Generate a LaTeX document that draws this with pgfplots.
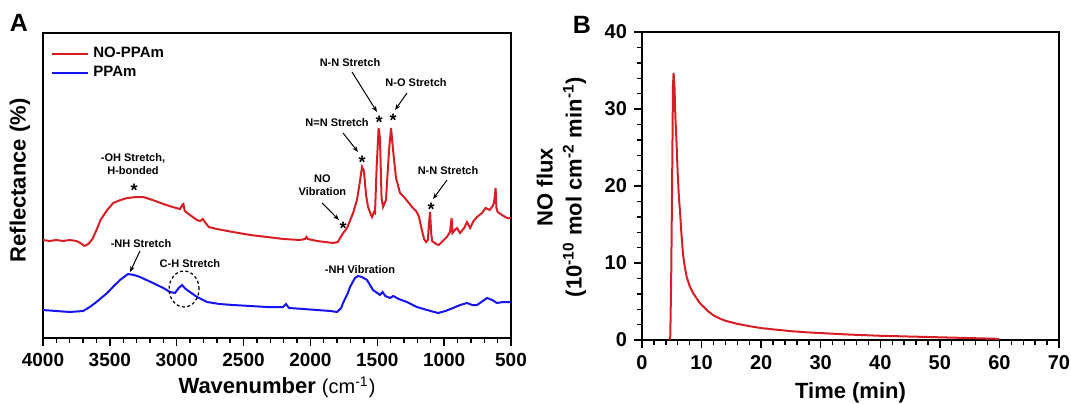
\documentclass[border=0pt]{standalone}
\usepackage{fontspec}
\setmainfont{Liberation Sans}
\usepackage{pgfplots}
\usepackage{pgfplotstable}
\pgfplotsset{compat=1.18}
\usetikzlibrary{arrows.meta}

\definecolor{nored}{RGB}{214,30,36}
\definecolor{ppblue}{RGB}{20,20,245}

% Panel A: wavenumber vs. reflectance (arbitrary offset units)
\pgfplotstableread{
w y
4000 98
3950 97
3900 98
3850 97
3800 98
3750 97
3720 95
3690 92
3660 94
3630 99
3600 108
3570 118
3520 128
3475 135
3420 138
3370 140
3300 141
3250 141
3180 138
3100 134
3030 131
2975 129
2958 133
2950 134
2940 127
2900 123
2850 118
2825 117
2805 119
2790 116
2760 111
2700 109
2580 106
2450 103
2325 101
2200 99
2080 98
2040 99
2030 101
2020 99
1950 97
1830 95
1795 96
1760 104
1726 110
1681 125
1652 138
1635 152
1614 171
1600 167
1584 143
1569 131
1550 124
1539 121
1525 126
1517 125
1505 170
1490 210
1480 200
1468 140
1457 131
1435 138
1412 188
1397 210
1382 188
1360 160
1330 145
1300 141
1270 136
1240 131
1210 127
1190 122
1170 110
1150 99
1135 96
1122 98
1113 115
1105 126
1097 105
1090 97
1060 94
1040 93
1010 97
980 101
956 106
944 120
938 105
920 108
904 110
881 105
850 110
829 116
806 110
780 117
754 121
717 125
690 130
660 128
642 131
627 135
615 150
609 130
600 126
567 123
530 120
500 120
}\redA

\pgfplotstableread{
w y
4000 28
3900 27
3800 26
3700 27
3650 31
3600 36
3520 45
3470 52
3424 58
3364 64
3320 63
3275 61
3177 55
3100 50
3050 46
3013 45
2985 50
2960 53
2940 50
2923 48
2901 46
2848 41
2773 36
2680 34
2579 33
2450 32
2325 31
2205 31
2183 34
2160 30
2050 29
1951 28
1850 27
1801 26
1770 30
1756 35
1720 45
1704 51
1667 60
1644 62
1614 61
1577 58
1532 48
1500 45
1480 43
1460 46
1440 42
1405 40
1380 42
1340 39
1278 36
1203 31
1128 28
1046 25
990 27
934 30
880 33
829 35
790 33
754 33
700 38
679 40
640 38
605 35
560 36
522 36
500 36
}\blueA

% Panel B: NO flux vs. time
\pgfplotstableread{
t f
4.6 0
4.75 0.5
4.9 8
5.05 20
5.2 33
5.3 34.7
5.45 33
5.6 29
5.8 25.6
6.0 21.5
6.2 18.5
6.4 16.5
6.6 14
6.9 11
7.2 9.4
7.5 8.2
8.0 7.0
8.5 6.2
9.0 5.6
9.7 4.8
10.5 4.2
11 3.8
12 3.2
13 2.8
14 2.5
15 2.3
16 2.1
18 1.8
20 1.55
22 1.38
25 1.15
28 0.98
30 0.9
35 0.7
40 0.55
45 0.45
50 0.35
55 0.25
60 0.15
}\fluxB

\tikzset{
  ann/.style={font=\bfseries\fontsize{5.5}{6.6}\selectfont},
  pk/.style={anchor=north, inner sep=0pt, font=\bfseries\fontsize{9}{9}\selectfont},
  arr/.style={-{Stealth[length=3pt]}, line width=0.5pt},
}

\pgfplotsset{
  panel/.style={
    scale only axis,
    axis line style={line width=0.8pt, black},
    tick align=outside,
    tick pos=left,
    major tick length=4pt,
    minor tick length=2.5pt,
    tick style={line width=0.7pt, black},
    /pgf/number format/assume math mode=true,
    /pgf/number format/1000 sep={},
    scaled ticks=false,
    xticklabel={\pgfmathprintnumber{\tick}},
    yticklabel={\pgfmathprintnumber{\tick}},
    ticklabel style={font=\bfseries\fontsize{9.5}{10}\selectfont},
    label style={font=\bfseries\fontsize{11}{14.5}\selectfont},
  },
}

\begin{document}
\begin{tikzpicture}
\begin{axis}[
  panel,
  name=A,
  at={(0pt,0pt)}, anchor=south west,
  width=234pt, height=152.5pt,
  x dir=reverse,
  xmin=500, xmax=4000,
  ymin=0, ymax=305,
  xtick={500,1000,...,4000},
  minor x tick num=4,
  ytick=\empty,
  xlabel={Wavenumber {\mdseries\fontsize{10}{12}\selectfont(cm\textsuperscript{-1})}},
  ylabel={Reflectance (\%)},
  xlabel style={at={(axis description cs:0.5,0)}, anchor=center, yshift=-24.5pt},
  ylabel style={at={(axis description cs:0,0.5)}, anchor=center, yshift=11.5pt, xshift=2.5pt},
  legend style={at={(axis description cs:0,1)}, anchor=north west, xshift=4pt, yshift=-5pt,
    draw=none, fill=none, inner sep=0pt, row sep=-1.5pt,
    font=\bfseries\fontsize{7.5}{9}\selectfont},
  legend cell align=left,
  legend image code/.code={\draw[#1, line width=1pt] (0pt,0pt) -- (18pt,0pt);},
]
\addplot[nored, line width=1pt] table[x=w, y=y] {\redA};
\addlegendentry{NO-PPAm}
\addplot[ppblue, line width=1pt] table[x=w, y=y] {\blueA};
\addlegendentry{PPAm}

% annotations
\node[ann, align=center] at (axis cs:3327,174) {-OH Stretch,\\H-bonded};
\node[pk] at (axis cs:3319,154) {*};

\node[ann] at (axis cs:1704,275) {N-N Stretch};
\draw[arr] (axis cs:1689,266) -- (axis cs:1502,226);
\node[pk] at (axis cs:1487,222) {*};
\node[pk] at (axis cs:1382,224) {*};

\node[ann] at (axis cs:1210,255) {N-O Stretch};
\draw[arr] (axis cs:1278,245) -- (axis cs:1367,228);

\node[ann] at (axis cs:1801,215) {N=N Stretch};
\draw[arr] (axis cs:1756,205) -- (axis cs:1644,186);
\node[pk] at (axis cs:1614,182) {*};

\node[ann, align=center] at (axis cs:1910,153) {NO\\Vibration};
\draw[arr] (axis cs:1913,135) -- (axis cs:1786,118);
\node[pk] at (axis cs:1756,116) {*};

\node[ann] at (axis cs:971,167) {N-N Stretch};
\draw[arr] (axis cs:978,158) -- (axis cs:1083,139);
\node[pk] at (axis cs:1098,135) {*};

\node[ann] at (axis cs:3267,94) {-NH Stretch};
\draw[arr] (axis cs:3275,87) -- (axis cs:3349,66);

\node[ann] at (axis cs:2901,74) {C-H Stretch};
\draw[dash pattern=on 1.5pt off 1.2pt, line width=0.6pt] (axis cs:2945,49) ellipse [x radius=7.5pt, y radius=9pt];

\node[ann] at (axis cs:1629,68) {-NH Vibration};
\end{axis}

\begin{axis}[
  panel,
  name=B,
  at={(299.5pt,-1pt)}, anchor=south west,
  width=208.5pt, height=154pt,
  xmin=0, xmax=70, ymin=0, ymax=40,
  xtick={0,10,...,70}, ytick={0,10,...,40},
  minor tick num=4,
  ticklabel style={font=\bfseries\fontsize{10}{11}\selectfont},
  xlabel={Time (min)},
  ylabel={NO flux\\(10\textsuperscript{-10} mol cm\textsuperscript{-2} min\textsuperscript{-1})},
  xlabel style={at={(axis description cs:0.5,0)}, anchor=center, yshift=-26.5pt},
  ylabel style={at={(axis description cs:0,0.5)}, anchor=center, align=center, yshift=40.25pt, xshift=-0.5pt},
]
\addplot[nored, line width=1pt] table[x=t, y=f] {\fluxB};
\end{axis}

\node[font=\bfseries\fontsize{12.5}{13}\selectfont] at (-12pt,157.5pt) {A};
\node[font=\bfseries\fontsize{12.5}{13}\selectfont] at (269.5pt,156.5pt) {B};

\pgfresetboundingbox
\path[use as bounding box] (-21.5pt,-32.5pt) rectangle (514pt,169pt);
\end{tikzpicture}
\end{document}
